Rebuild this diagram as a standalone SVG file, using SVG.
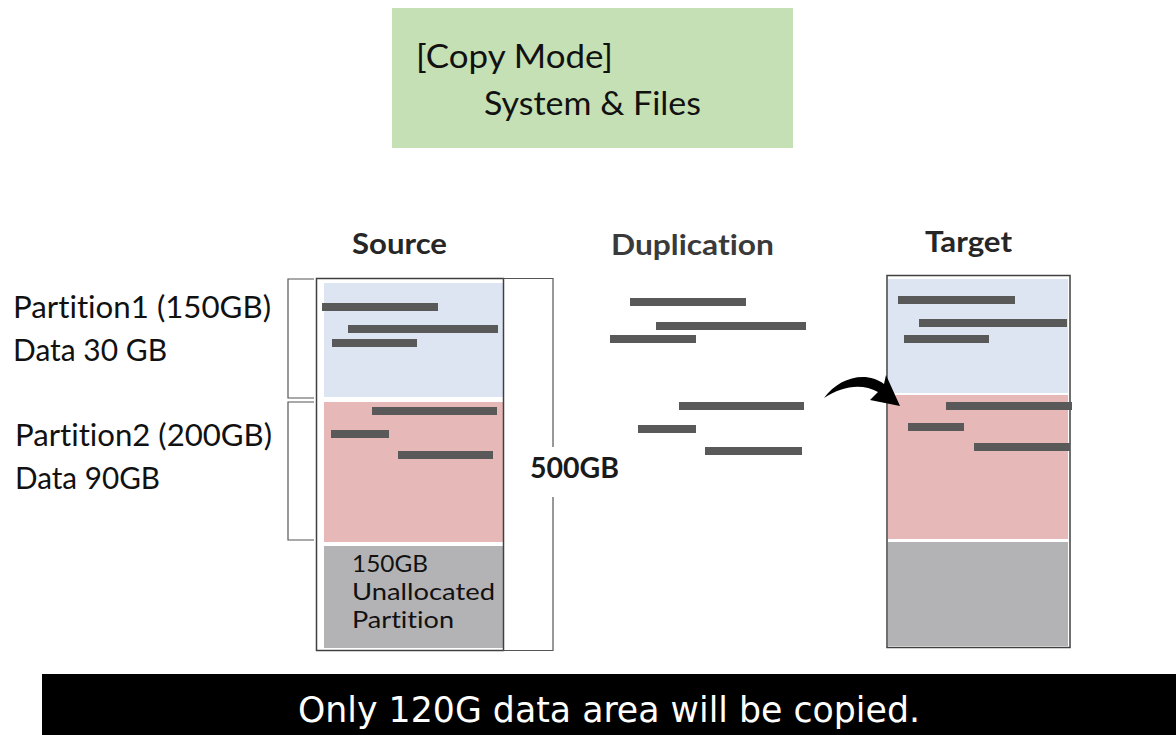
<svg xmlns="http://www.w3.org/2000/svg" width="1176" height="735" viewBox="0 0 1176 735">
<style>
.t{font-family:Lato,"Liberation Sans",sans-serif;fill:#111;font-variant-ligatures:none}
.b{font-family:Lato,"Liberation Sans",sans-serif;font-weight:bold;fill:#262626;font-variant-ligatures:none}
.bar{fill:#595959}
.blue{fill:#dce5f1}
.pink{fill:#e6b8b7}
.gray{fill:#b3b3b6}
.frame{fill:none;stroke:#404040;stroke-width:1.5}
.br{fill:none;stroke:#555;stroke-width:1.2}
</style>
<rect width="1176" height="735" fill="#fff"/>
<g id="mode-box">
<rect x="392" y="8" width="401" height="140" fill="#c5e0b4"/>
<text class="t" x="416" y="68" font-size="33" textLength="197" lengthAdjust="spacingAndGlyphs">[Copy Mode]</text>
<text class="t" x="484" y="115" font-size="33" textLength="217" lengthAdjust="spacingAndGlyphs">System &amp; Files</text>
</g>
<g id="titles">
<text class="b" x="352" y="254" font-size="29" textLength="95" lengthAdjust="spacingAndGlyphs">Source</text>
<text class="b" x="611" y="255" font-size="29" textLength="163" lengthAdjust="spacingAndGlyphs" style="fill:#3a3a3a">Duplication</text>
<text class="b" x="925" y="252" font-size="29" textLength="87" lengthAdjust="spacingAndGlyphs">Target</text>
</g>
<g id="partition-labels">
<text class="t" x="13" y="318" font-size="30" textLength="258" lengthAdjust="spacingAndGlyphs">Partition1 (150GB)</text>
<text class="t" x="13" y="361" font-size="30" textLength="154" lengthAdjust="spacingAndGlyphs">Data 30 GB</text>
<text class="t" x="15" y="446" font-size="30" textLength="257" lengthAdjust="spacingAndGlyphs">Partition2 (200GB)</text>
<text class="t" x="15" y="489" font-size="30" textLength="145" lengthAdjust="spacingAndGlyphs">Data 90GB</text>
<path class="br" d="M314 279 H288 V398 H314"/>
<path class="br" d="M314 402 H288 V540 H314"/>
</g>
<g id="source">
<rect class="blue" x="324" y="283" width="179" height="114"/>
<rect class="pink" x="324" y="402" width="179" height="140"/>
<rect class="gray" x="324" y="546" width="179" height="102"/>
<rect class="frame" x="316.5" y="278.5" width="187" height="372"/>
<rect class="bar" x="322" y="303" width="116" height="8"/>
<rect class="bar" x="348" y="325" width="150" height="8"/>
<rect class="bar" x="332" y="339" width="85" height="8"/>
<rect class="bar" x="372" y="407" width="125" height="8"/>
<rect class="bar" x="331" y="430" width="58" height="8"/>
<rect class="bar" x="398" y="451" width="95" height="8"/>
<text class="t" x="352" y="572" font-size="24" textLength="76" lengthAdjust="spacingAndGlyphs">150GB</text>
<text class="t" x="352" y="600" font-size="24" textLength="143" lengthAdjust="spacingAndGlyphs">Unallocated</text>
<text class="t" x="352" y="628" font-size="24" textLength="102" lengthAdjust="spacingAndGlyphs">Partition</text>
</g>
<g id="size-bracket">
<path class="br" d="M503 278.5 H553 V447 M553 497 V650.5 H503"/>
<text class="b" x="530" y="478" font-size="28" textLength="89" lengthAdjust="spacingAndGlyphs" style="fill:#1a1a1a">500GB</text>
</g>
<g id="duplication">
<rect class="bar" x="630" y="298" width="116" height="8"/>
<rect class="bar" x="656" y="322" width="150" height="8"/>
<rect class="bar" x="610" y="335" width="86" height="8"/>
<rect class="bar" x="679" y="402" width="125" height="8"/>
<rect class="bar" x="638" y="425" width="58" height="8"/>
<rect class="bar" x="705" y="447" width="97" height="8"/>
</g>
<g id="target">
<rect class="blue" x="888" y="279" width="180" height="114"/>
<rect class="pink" x="888" y="395" width="180" height="144"/>
<rect class="gray" x="888" y="542" width="180" height="104"/>
<rect class="frame" x="887" y="275.5" width="183" height="372"/>
<rect class="bar" x="898" y="296" width="117" height="8"/>
<rect class="bar" x="919" y="319" width="148" height="8"/>
<rect class="bar" x="904" y="335" width="85" height="8"/>
<rect class="bar" x="946" y="402" width="126" height="8"/>
<rect class="bar" x="908" y="423" width="56" height="8"/>
<rect class="bar" x="974" y="443" width="96" height="8"/>
</g>
<g id="connectors">
<path d="M824 398 C838 378 866 370 884 384 L886 375 L900 406 L870 400 L878 392 C862 383 842 386 824 398 Z" fill="#000"/>
</g>
<g id="footer">
<rect x="42" y="674" width="1134" height="61" fill="#000"/>
<text x="298" y="722" font-size="36" fill="#fff" font-family="'DejaVu Sans Condensed','DejaVu Sans',sans-serif" textLength="622" lengthAdjust="spacingAndGlyphs">Only 120G data area will be copied.</text>
</g>
</svg>
